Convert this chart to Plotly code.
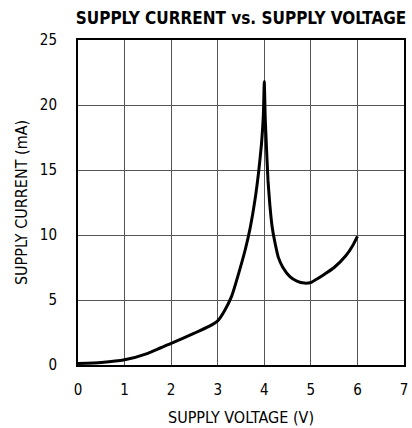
import plotly.graph_objects as go

voltage = [0.0, 0.5, 1.0, 1.5, 2.0, 2.5, 2.8, 3.0, 3.15, 3.3, 3.47, 3.6, 3.7, 3.8, 3.88, 3.94, 3.98, 4.0,
           4.02, 4.05, 4.08, 4.12, 4.17, 4.23, 4.3, 4.4, 4.55, 4.7, 4.86, 5.0, 5.15, 5.3, 5.5, 5.75, 5.9, 6.0]
current = [0.12, 0.2, 0.4, 0.9, 1.67, 2.45, 2.95, 3.4, 4.2, 5.3, 7.3, 9.0, 10.6, 12.7, 14.9, 17.0, 19.2, 21.8,
           19.0, 16.5, 14.2, 12.3, 10.6, 9.4, 8.3, 7.5, 6.8, 6.45, 6.3, 6.35, 6.65, 7.0, 7.5, 8.4, 9.2, 9.9]

x_ticks = [0, 1, 2, 3, 4, 5, 6, 7]
y_ticks = [0, 5, 10, 15, 20, 25]

font_family = "DejaVu Sans Condensed, Liberation Sans Narrow, sans-serif"

fig = go.Figure()
fig.add_trace(go.Scatter(x=voltage, y=current, mode="lines",
                         line=dict(color="black", width=3, shape="spline", smoothing=0.5),
                         showlegend=False, hoverinfo="skip"))

fig.update_layout(
    width=412, height=428,
    margin=dict(l=78, r=8, t=40, b=63),
    paper_bgcolor="white", plot_bgcolor="white",
    font=dict(family=font_family, size=15, color="black"),
    title=dict(text="<b>SUPPLY CURRENT vs. SUPPLY VOLTAGE</b>", x=0.585, xanchor="center",
               y=0.958, yanchor="middle", font=dict(size=17, family=font_family, color="black")),
    xaxis=dict(range=[0, 7], tickvals=x_ticks, ticktext=[str(v) for v in x_ticks],
               showgrid=True, gridcolor="#555555", gridwidth=1, zeroline=False,
               showline=True, linecolor="black", linewidth=2, mirror=True, ticks="",
               ticklabelstandoff=10, automargin=False,
               title=dict(text="SUPPLY VOLTAGE (V)", standoff=14, font=dict(size=16)),
               tickfont=dict(size=15)),
    yaxis=dict(range=[0, 25], tickvals=y_ticks, ticktext=[str(v) for v in y_ticks],
               showgrid=True, gridcolor="#555555", gridwidth=1, zeroline=False,
               showline=True, linecolor="black", linewidth=2, mirror=True, ticks="",
               ticklabelstandoff=16, automargin=False,
               title=dict(text="SUPPLY CURRENT (mA)", standoff=8, font=dict(size=16)),
               tickfont=dict(size=15)),
)

fig.write_html("out.html", config={"displayModeBar": False},
               post_script="document.body.style.margin='0';document.body.style.overflow='hidden';")
